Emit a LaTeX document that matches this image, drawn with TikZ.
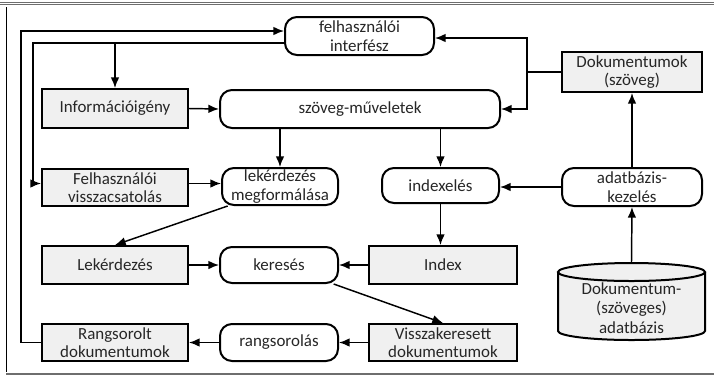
\documentclass[tikz,border=0pt]{standalone}
\usepackage{fontspec}
\setmainfont{Carlito}
\usetikzlibrary{arrows.meta}

\tikzset{
  grbox/.style={draw, line width=1.5pt, fill={rgb, 255:red, 240; green, 240; blue, 240}, text=black!85, align=center, inner sep=0.75pt, font=\fontsize{12.7}{13.8}\selectfont},
  rdbox/.style={grbox, fill=white, rounded corners=9pt},
  arr/.style={line width=1.1pt, -{Latex[length=8pt,width=6.5pt]}},
  ln/.style={line width=1.1pt}
}

\begin{document}
\begin{tikzpicture}[x=0.75pt,y=0.75pt,yscale=-1,xscale=1]
\useasboundingbox (0,0) rectangle (714,376);

%Frame
\draw [color={rgb, 255:red, 110; green, 110; blue, 110 }, line width=0.75] (0,2.5) -- (714,2.5) ;
\draw [color={rgb, 255:red, 110; green, 110; blue, 110 }, line width=0.75] (0,4.8) -- (714,4.8) ;
\draw [line width=0.9] (6.5,7) -- (6.5,372) ;
\draw [color={rgb, 255:red, 110; green, 110; blue, 110 }, line width=1.5] (6,373.5) -- (714,373.5) ;

% Rounded boxes
\node [rdbox, minimum width=111.75pt, minimum height=28.5pt] (fi) at (359.5,36) {felhasználói\\interfész};
\node [rdbox, minimum width=210pt, minimum height=28.5pt] (szm) at (360,109) {szöveg-műveletek};
\node [rdbox, minimum width=87pt, minimum height=27.75pt] (lm) at (280,186.5) {lekérdezés\\megformálása};
\node [rdbox, minimum width=87.75pt, minimum height=26.25pt] (idx) at (440.5,185.5) {indexelés};
\node [rdbox, minimum width=105pt, minimum height=28.5pt] (ak) at (632,187) {adatbázis-\\kezelés};
\node [rdbox, minimum width=88.5pt, minimum height=27pt] (ker) at (279,265) {keresés};
\node [rdbox, minimum width=88.5pt, minimum height=27.75pt] (rs) at (279,342.5) {rangsorolás};

% Grey boxes
\node [grbox, minimum width=109.5pt, minimum height=29.25pt] (info) at (115,108.5) {Információigény};
\node [grbox, minimum width=105pt, minimum height=30pt] (doksz) at (632,72) {Dokumentumok\\(szöveg)};
\node [grbox, minimum width=109.5pt, minimum height=27.75pt] (fv) at (115,187.5) {Felhasználói\\visszacsatolás};
\node [grbox, minimum width=109.5pt, minimum height=28.5pt] (lek) at (115,265) {Lekérdezés};
\node [grbox, minimum width=111pt, minimum height=28.5pt] (index) at (443,265) {Index};
\node [grbox, minimum width=111pt, minimum height=27.75pt] (vk) at (443,342.5) {Visszakeresett\\dokumentumok};
\node [grbox, minimum width=109.5pt, minimum height=27.75pt] (rd) at (115,342.5) {Rangsorolt\\dokumentumok};

%Shape: Can
\draw [line width=1.5pt, fill={rgb, 255:red, 240; green, 240; blue, 240}] (558,272) -- (558,331) arc [start angle=180, end angle=0, x radius=73.5, y radius=9] -- (705,272) ;
\draw [line width=1.5pt, fill={rgb, 255:red, 240; green, 240; blue, 240}] (631.5,272) ellipse [x radius=73.5, y radius=9] ;
\coordinate (dbtop) at (631.5,262);
\node [text=black!85, align=center, inner sep=0.75pt, font=\fontsize{12.7}{14.6}\selectfont] (db) at (631.5,308) {Dokumentum-\\(szöveges)\\adatbázis};

% Corner points
\coordinate (lo) at (21,31);
\coordinate (li) at (33,43);
\coordinate (dj) at (527,72);

% Connectors
\draw [arr] (rd.west) -| (lo) -- (fi.west |- lo) ;
\draw [arr] (fi.west |- li) -- (li) |- ([yshift=-3pt]fv.west) ;
\draw [arr] (info.north |- li) -- (info.north) ;
\draw [arr] (info.east) -- (szm.west) ;
\draw [ln] (doksz.west) -- (dj) ;
\draw [arr] (dj) |- ([yshift=1.5pt]fi.east) ;
\draw [arr] (dj) |- (szm.east) ;
\draw [arr] (lm.north |- szm.south) -- (lm.north) ;
\draw [arr] (idx.north |- szm.south) -- (idx.north) ;
\draw [arr] (ak.north) -- (doksz.south) ;
\draw [arr] (ak.west) -- (ak.west -| idx.east) ;
\draw [arr, {Latex[length=8pt,width=6.5pt]}-] (ak.south) -- (dbtop) ;
\draw [arr] ([yshift=-3pt]fv.east) -- ([yshift=-3pt]fv.east -| lm.west) ;
\draw [arr] ([xshift=5pt]lm.south west) -- (lek.north) ;
\draw [arr] (lek.east) -- (ker.west) ;
\draw [arr] (idx.south) -- (idx.south |- index.north) ;
\draw [arr] (index.west) -- (ker.east) ;
\draw [arr] ([xshift=-4pt]ker.south east) -- (vk.north) ;
\draw [arr] (vk.west) -- (rs.east) ;
\draw [arr] (rs.west) -- (rd.east) ;

\end{tikzpicture}
\end{document}
